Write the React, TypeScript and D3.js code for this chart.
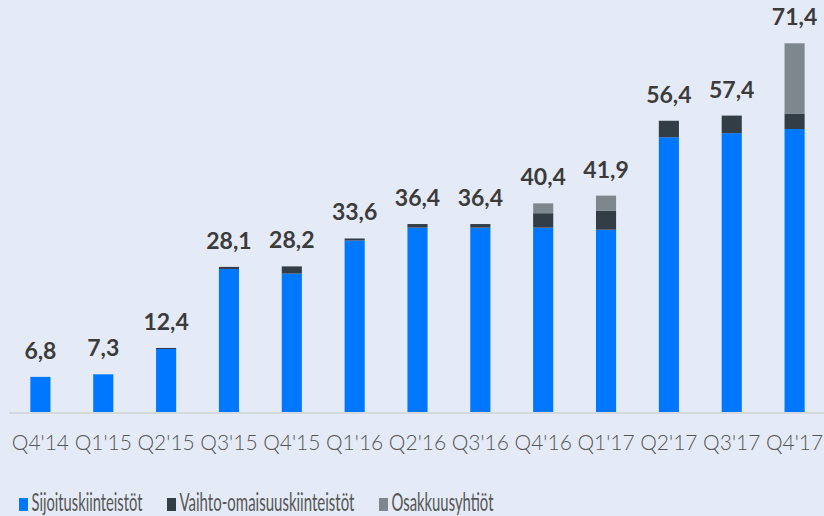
import React, { useEffect, useRef } from 'react';
import * as d3 from 'd3';

const quarters = ["Q4'14", "Q1'15", "Q2'15", "Q3'15", "Q4'15", "Q1'16", "Q2'16", "Q3'16", "Q4'16", "Q1'17", "Q2'17", "Q3'17", "Q4'17"];
const sijoitus = [6.8, 7.3, 12.2, 27.7, 26.8, 33.2, 35.7, 35.7, 35.7, 35.3, 53.2, 54.0, 54.8];
const vaihto = [0, 0, 0.2, 0.4, 1.4, 0.4, 0.7, 0.7, 2.8, 3.7, 3.2, 3.4, 3.0];
const osakkuus = [0, 0, 0, 0, 0, 0, 0, 0, 1.9, 2.9, 0, 0, 13.6];
const totals = ["6,8", "7,3", "12,4", "28,1", "28,2", "33,6", "36,4", "36,4", "40,4", "41,9", "56,4", "57,4", "71,4"];
const seriesNames = ['Sijoituskiinteistöt', 'Vaihto-omaisuuskiinteistöt', 'Osakkuusyhtiöt'];
const colors = ['#0077ff', '#323d46', '#7e878e'];

export default function App() {
  const svgRef = useRef<SVGSVGElement | null>(null);

  useEffect(() => {
    const svg = d3.select(svgRef.current);
    svg.selectAll('*').remove();

    const W = 824, H = 516;
    const baseY = 412;

    svg.append('rect').attr('width', W).attr('height', H).attr('fill', '#e4ebf6');

    const x = d3.scaleBand().domain(quarters).range([9, 826]).paddingInner(0.68).paddingOuter(0.34);
    const y = d3.scaleLinear().domain([0, 71.4]).range([baseY, 43.3]);

    const rows = quarters.map((q, i) => ({ q, s0: sijoitus[i], s1: vaihto[i], s2: osakkuus[i] }));
    const stack = d3.stack<any>().keys(['s0', 's1', 's2']);
    const layers = stack(rows);

    layers.forEach((layer, li) => {
      svg.append('g')
        .selectAll('rect')
        .data(layer)
        .enter()
        .append('rect')
        .attr('x', (d: any) => x(d.data.q)!)
        .attr('width', x.bandwidth())
        .attr('y', d => y(d[1]))
        .attr('height', d => Math.max(0, y(d[0]) - y(d[1])))
        .attr('fill', colors[li]);
    });

    // axis line
    svg.append('line')
      .attr('x1', 9).attr('x2', 824)
      .attr('y1', baseY + 1).attr('y2', baseY + 1)
      .attr('stroke', '#d5d8dc').attr('stroke-width', 2);

    // value labels
    svg.append('g')
      .selectAll('text')
      .data(rows)
      .enter()
      .append('text')
      .attr('x', d => x(d.q)! + x.bandwidth() / 2)
      .attr('y', d => y(d.s0 + d.s1 + d.s2) - 18)
      .attr('text-anchor', 'middle')
      .attr('font-family', 'Lato, sans-serif')
      .attr('font-weight', 700)
      .attr('font-size', 23)
      .attr('fill', '#3b3b3b')
      .text((d, i) => totals[i]);

    // category labels
    svg.append('g')
      .selectAll('text')
      .data(quarters)
      .enter()
      .append('text')
      .attr('x', d => x(d)! + x.bandwidth() / 2)
      .attr('y', 450)
      .attr('text-anchor', 'middle')
      .attr('font-family', 'Lato, sans-serif')
      .attr('font-weight', 300)
      .attr('font-size', 21)
      .attr('fill', '#555555')
      .text(d => d);

    // legend (condensed font look via horizontal scale)
    const legendX = [19, 167, 379];
    const legendW = [111, 175, 102];
    const lg = svg.append('g');
    seriesNames.forEach((name, i) => {
      lg.append('rect')
        .attr('x', legendX[i]).attr('y', 498)
        .attr('width', 9).attr('height', 13)
        .attr('fill', colors[i]);
      const t = lg.append('text')
        .attr('x', 0)
        .attr('y', 0)
        .attr('font-family', 'Lato, sans-serif')
        .attr('font-size', 25)
        .attr('fill', '#555555')
        .text(name);
      const len = (t.node() as SVGTextElement).getComputedTextLength() || legendW[i];
      const k = legendW[i] / len;
      t.attr('transform', `translate(${legendX[i] + 12.5},511) scale(${k},1)`);
    });
  }, []);

  return (
    <div style={{ position: 'fixed', top: 0, left: 0 }}>
      <svg ref={svgRef} width={824} height={516} style={{ display: 'block' }}></svg>
    </div>
  );
}
